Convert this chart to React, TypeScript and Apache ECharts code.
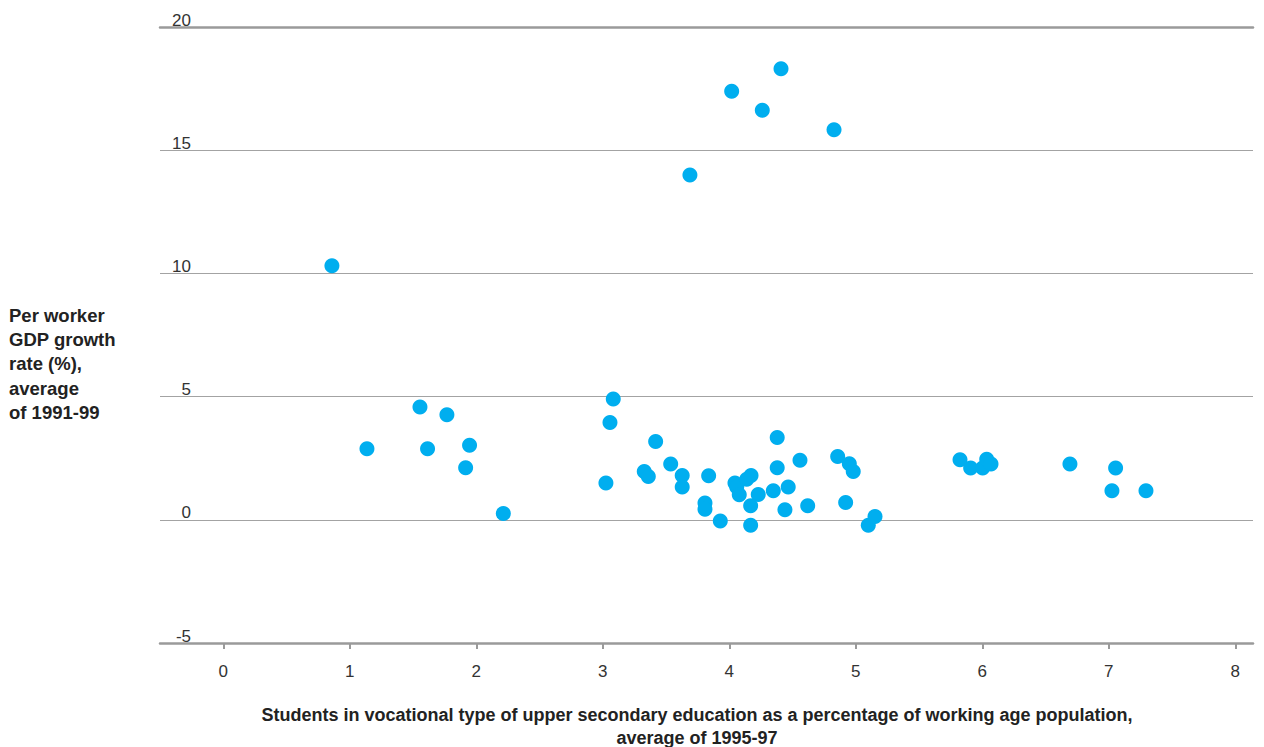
import React, { useEffect, useRef } from "react";
import * as echarts from "echarts";

// Students in vocational upper secondary education (% of working age pop.), avg 1995-97
const vocationalShare: number[] = [
  0.859, 1.136, 1.555, 1.615, 1.768, 1.947, 1.916, 2.214,
  3.083, 3.057, 3.025, 3.418, 3.328, 3.360, 3.537, 3.628, 3.628, 3.837,
  3.808, 3.808, 3.929, 4.045, 4.059, 4.079, 4.138, 4.172, 4.229, 4.169,
  4.169, 4.379, 4.379, 4.348, 4.466, 4.440, 4.559, 4.620, 4.857, 4.949,
  4.980, 4.920, 5.099, 5.152,
  5.824, 5.908, 6.003, 6.035, 6.069, 6.693, 7.054, 7.025, 7.294,
  4.019, 4.409, 4.261, 4.828, 3.689,
];

// Per worker GDP growth rate (%), average of 1991-99
const gdpGrowth: number[] = [
  10.31, 2.88, 4.58, 2.88, 4.26, 3.03, 2.11, 0.26,
  4.90, 3.95, 1.49, 3.18, 1.96, 1.76, 2.26, 1.80, 1.33, 1.79,
  0.68, 0.43, -0.05, 1.49, 1.33, 1.02, 1.65, 1.80, 1.03, 0.57,
  -0.22, 3.34, 2.11, 1.18, 1.33, 0.41, 2.42, 0.57, 2.57, 2.27,
  1.96, 0.70, -0.22, 0.13,
  2.44, 2.10, 2.10, 2.46, 2.26, 2.26, 2.10, 1.18, 1.18,
  17.39, 18.31, 16.62, 15.83, 13.99,
];

const xTicks: number[] = [0, 1, 2, 3, 4, 5, 6, 7, 8];

const xTitle =
  "Students in vocational type of upper secondary education as a percentage of working age population,\naverage of 1995-97";
const yTitle = "Per worker\nGDP growth\nrate (%),\naverage\nof 1991-99";

const FONT = "'Liberation Sans', Arial, Helvetica, sans-serif";
const GRID_GREY = "#a3a3a3";
const AXIS_GREY = "#9a9a9a";

export default function App() {
  const ref = useRef<HTMLDivElement>(null);

  useEffect(() => {
    if (!ref.current) return;
    const chart = echarts.init(ref.current, undefined, { renderer: "svg" });
    const points = vocationalShare.map((x, i) => [x, gdpGrowth[i]]);

    chart.setOption({
      animation: false,
      backgroundColor: "#ffffff",
      grid: { left: 160, right: 11, top: 27, bottom: 104, containLabel: false },
      xAxis: [
        {
          type: "value",
          min: -0.5,
          max: 8.14,
          position: "bottom",
          axisLine: { show: true, onZero: false, lineStyle: { color: AXIS_GREY, width: 2.5 } },
          axisTick: {
            show: true,
            customValues: xTicks,
            length: 6,
            lineStyle: { color: AXIS_GREY, width: 2 },
          },
          axisLabel: {
            customValues: xTicks,
            margin: 20,
            fontSize: 17,
            color: "#333333",
            fontFamily: FONT,
          },
          splitLine: { show: false },
        },
        {
          type: "value",
          min: -0.5,
          max: 8.14,
          position: "top",
          axisLine: { show: true, onZero: false, lineStyle: { color: AXIS_GREY, width: 2.5 } },
          axisTick: { show: false },
          axisLabel: { show: false },
          splitLine: { show: false },
        },
      ],
      yAxis: {
        type: "value",
        min: -5,
        max: 20,
        interval: 5,
        axisLine: { show: false },
        axisTick: { show: false },
        axisLabel: {
          margin: -31,
          align: "right",
          verticalAlign: "bottom",
          fontSize: 17,
          lineHeight: 14,
          color: "#333333",
          fontFamily: FONT,
        },
        splitLine: { show: true, lineStyle: { color: GRID_GREY, width: 1 } },
      },
      graphic: [
        {
          type: "text",
          left: 9,
          top: 303,
          style: {
            text: yTitle,
            font: `bold 18.5px ${FONT}`,
            fill: "#222222",
            lineHeight: 24.3,
          },
        },
        {
          type: "text",
          x: 697,
          y: 703,
          style: {
            text: xTitle,
            font: `bold 18px ${FONT}`,
            fill: "#222222",
            lineHeight: 23.5,
            align: "center",
            verticalAlign: "top",
          },
        },
      ],
      series: [
        {
          type: "scatter",
          data: points,
          symbol: "circle",
          symbolSize: 15,
          itemStyle: { color: "#00AEEF", opacity: 1 },
        },
      ],
    });

    return () => chart.dispose();
  }, []);

  return (
    <div
      ref={ref}
      style={{ position: "absolute", left: 0, top: 0, width: 1264, height: 747 }}
    />
  );
}
